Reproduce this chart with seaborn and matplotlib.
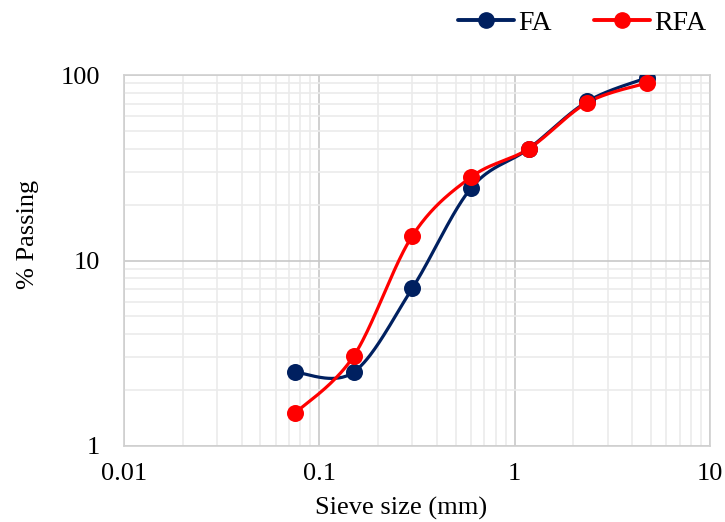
import numpy as np
import pandas as pd
import matplotlib
matplotlib.use('Agg')
import matplotlib.pyplot as plt
from matplotlib.lines import Line2D
import seaborn as sns

# sieve analysis data
sieve_mm = [0.075, 0.15, 0.3, 0.6, 1.18, 2.36, 4.75]
fa_pass = [2.5, 2.5, 7.1, 24.6, 40, 72, 96.5]
rfa_pass = [1.5, 3.05, 13.6, 28.2, 40, 71, 90.5]

series_names = ['FA', 'RFA']
series_colors = ['#002060', '#FF0000']

sns.set_style('white')
plt.rcParams['font.family'] = ['Liberation Serif', 'DejaVu Serif']
plt.rcParams['text.color'] = 'black'
plt.rcParams['axes.labelcolor'] = 'black'
plt.rcParams['xtick.color'] = 'black'
plt.rcParams['ytick.color'] = 'black'


def smooth_curve(x, y, n=40):
    # Catmull-Rom in log-log space, roughly like Excel's smoothed line
    lx, ly = np.log10(x), np.log10(y)
    pts = np.column_stack([lx, ly])
    pts = np.vstack([pts[0], pts, pts[-1]])
    out = []
    for i in range(1, len(pts) - 2):
        p0, p1, p2, p3 = pts[i - 1], pts[i], pts[i + 1], pts[i + 2]
        t = np.linspace(0, 1, n)[:, None]
        c1 = p1 + (p2 - p0) / 6
        c2 = p2 - (p3 - p1) / 6
        seg = ((1 - t) ** 3) * p1 + 3 * ((1 - t) ** 2) * t * c1 \
            + 3 * (1 - t) * t ** 2 * c2 + t ** 3 * p2
        out.append(seg)
    out = np.vstack(out)
    return 10 ** out[:, 0], 10 ** out[:, 1]


fig = plt.figure(figsize=(7.25, 5.22), dpi=100)
ax = fig.add_axes([0.171, 0.1456, 0.808, 0.7107])

for name, vals, col in zip(series_names, [fa_pass, rfa_pass], series_colors):
    sx, sy = smooth_curve(np.array(sieve_mm), np.array(vals))
    sns.lineplot(x=sx, y=sy, ax=ax, color=col, lw=2.3, sort=False,
                 estimator=None, zorder=3)
    sns.scatterplot(x=sieve_mm, y=vals, ax=ax, color=col, s=150,
                    edgecolor=col, linewidth=0, zorder=4)

ax.set_xscale('log')
ax.set_yscale('log')
ax.set_xlim(0.01, 10)
ax.set_ylim(1, 100)
ax.set_xticks([0.01, 0.1, 1, 10])
ax.set_xticklabels(['0.01', '0.1', '1', '10'])
ax.set_yticks([1, 10, 100])
ax.set_yticklabels(['1', '10', '100'])

ax.grid(True, which='major', color='#c8c8c8', lw=1.2)
ax.grid(True, which='minor', color='#ebebeb', lw=1.2)
ax.set_axisbelow(True)
for s in ax.spines.values():
    s.set_color('#d0d0d0')
    s.set_linewidth(1.2)
ax.tick_params(axis='x', which='both', length=0, labelsize=19, pad=12)
ax.tick_params(axis='y', which='both', length=0, labelsize=19, pad=17)

ax.set_xlabel('Sieve size (mm)', fontsize=19)
ax.set_ylabel('% Passing', fontsize=19)
ax.xaxis.set_label_coords(0.473, -0.138)
ax.yaxis.set_label_coords(-0.145, 0.569)

handles = [Line2D([0], [0], color=c, lw=2.8, marker='o', markersize=11)
           for c in series_colors]
fig.legend(handles, series_names, loc='center left', ncol=2, frameon=False,
           fontsize=20, bbox_to_anchor=(0.632, 0.956), handlelength=2.0,
           handletextpad=0.15, columnspacing=1.55, borderpad=0,
           borderaxespad=0)

plt.savefig('out.png', dpi=100)
